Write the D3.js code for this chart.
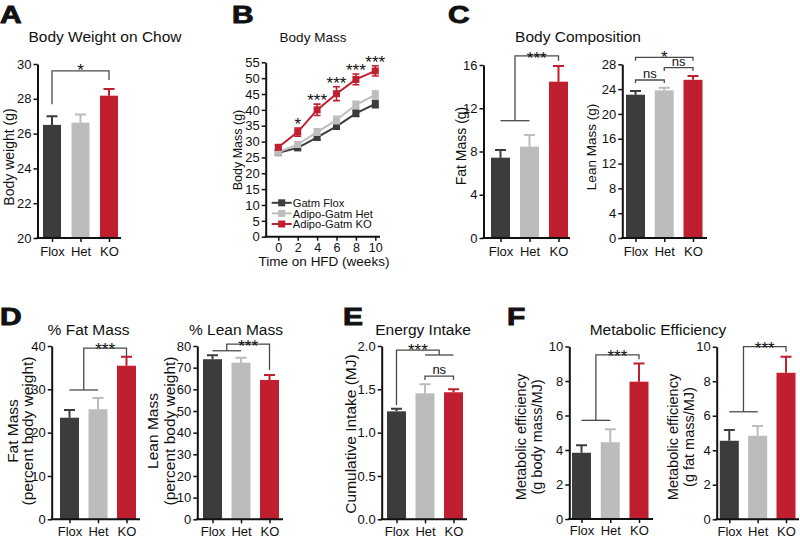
<!DOCTYPE html>
<html><head><meta charset="utf-8">
<script src="https://cdn.jsdelivr.net/npm/d3@7"></script>
<style>
body{margin:0;background:#fff;}
svg{display:block;font-family:"Liberation Sans",Arial,Helvetica,sans-serif;}
</style></head><body>
<svg id="chart" width="800" height="539"></svg>
<script>
// ---------- DATA ----------
const groups = ["Flox", "Het", "KO"];
const barColors = ["#3c3c3e", "#bbbcbe", "#c01f2f"];

// A: Body weight on chow (g)
const chowWeight = [26.5, 26.63, 28.18];
const chowWeightErr = [0.5, 0.47, 0.38];
const chowTicks = [20, 22, 24, 26, 28, 30];

// B: Body mass on HFD (g)
const weeks = [0, 2, 4, 6, 8, 10];
const massFlox = [26.5, 28.0, 31.3, 34.8, 38.9, 41.9];
const massFloxErr = [0.6, 0.7, 0.8, 0.9, 1.0, 1.2];
const massHet = [26.6, 29.1, 33.0, 36.8, 41.6, 44.7];
const massHetErr = [0.6, 0.8, 1.0, 1.2, 1.1, 1.3];
const massKO = [28.2, 33.0, 40.0, 45.1, 49.6, 52.3];
const massKOErr = [0.7, 1.3, 1.8, 2.2, 1.7, 1.6];
const massStars = ["", "*", "***", "***", "***", "***"];
const massTicks = [0, 5, 10, 15, 20, 25, 30, 35, 40, 45, 50, 55];
const weekTicks = [0, 2, 4, 6, 8, 10];
const seriesNames = ["Gatm Flox", "Adipo-Gatm Het", "Adipo-Gatm KO"];

// C: Body composition (g)
const fatMass = [7.43, 8.45, 14.46];
const fatMassErr = [0.72, 1.08, 1.44];
const fatTicks = [0, 4, 8, 12, 16];
const leanMass = [23.1, 23.8, 25.5];
const leanMassErr = [0.6, 0.4, 0.6];
const leanTicks = [0, 4, 8, 12, 16, 20, 24, 28];

// D: % of body weight
const pctFat = [23.45, 25.4, 35.45];
const pctFatErr = [1.75, 2.6, 2.05];
const pctFatTicks = [0, 10, 20, 30, 40];
const pctLean = [73.9, 72.3, 64.3];
const pctLeanErr = [1.8, 2.3, 2.3];
const pctLeanTicks = [0, 10, 20, 30, 40, 50, 60, 70, 80];

// E: Energy intake (MJ)
const intake = [1.246, 1.454, 1.466];
const intakeErr = [0.03, 0.104, 0.034];
const intakeTicks = [0, 0.5, 1.0, 1.5, 2.0];

// F: Metabolic efficiency
const effBody = [3.84, 4.45, 7.96];
const effBodyErr = [0.43, 0.75, 1.06];
const effFat = [4.55, 4.84, 8.49];
const effFatErr = [0.62, 0.56, 0.93];
const effTicks = [0, 2, 4, 6, 8, 10];

// ---------- DRAWING ----------
const svg = d3.select("#chart");
const INK = "#111";
const BRK = "#4a4a4a";

function styleAxis(sel, fs) {
  sel.select(".domain").attr("stroke", INK).attr("stroke-width", 2);
  sel.selectAll(".tick line").attr("stroke", INK).attr("stroke-width", 1.5);
  sel.selectAll(".tick text").attr("fill", INK).attr("font-size", fs).attr("font-family", null);
}

function letter(t, x, y) {
  svg.append("text").attr("transform", `translate(${x},${y}) scale(1.3,1)`)
    .attr("font-size", 23).attr("font-weight", "bold").attr("fill", INK)
    .attr("stroke", INK).attr("stroke-width", 0.9).text(t);
}
function title(t, x, y, fs) {
  svg.append("text").attr("x", x).attr("y", y).attr("text-anchor", "middle")
    .attr("font-size", fs).attr("fill", INK).text(t);
}
function ylabel(lines, xs, cy, fs) {
  lines.forEach((t, i) => {
    svg.append("text").attr("transform", `translate(${xs[i]},${cy}) rotate(-90)`)
      .attr("text-anchor", "middle").attr("dy", "0.35em")
      .attr("font-size", fs).attr("fill", INK).text(t);
  });
}

function barPanel(L, vals, errs, ticks, fmt) {
  const g = svg.append("g");
  const y = d3.scaleLinear().domain([ticks[0], ticks[ticks.length - 1]]).range([L.bottom, L.top]);
  const x = d3.scalePoint().domain(groups).range([L.c0, L.c2]);
  const rows = groups.map((k, i) => ({ k, v: vals[i], e: errs[i], c: barColors[i] }));
  g.selectAll(".err").data(rows).join("path")
    .attr("d", d => `M${x(d.k)},${y(d.v)}V${y(d.v + d.e)}M${x(d.k) - 5.5},${y(d.v + d.e)}H${x(d.k) + 5.5}`)
    .attr("stroke", d => d.c).attr("stroke-width", 2).attr("fill", "none");
  g.selectAll(".bar").data(rows).join("rect")
    .attr("x", d => x(d.k) - L.bw / 2).attr("y", d => y(d.v))
    .attr("width", L.bw).attr("height", d => y(ticks[0]) - y(d.v))
    .attr("fill", d => d.c);
  const ya = g.append("g").attr("transform", `translate(${L.ax},0)`)
    .call(d3.axisLeft(y).tickValues(ticks).tickSize(4).tickSizeOuter(0).tickPadding(2).tickFormat(fmt || d3.format("d")));
  styleAxis(ya, 13);
  const xa = g.append("g").attr("transform", `translate(0,${L.bottom})`)
    .call(d3.axisBottom(x).tickSize(4).tickPadding(L.xpad == null ? 5 : L.xpad));
  xa.select(".domain").remove();
  styleAxis(xa, 13);
  g.append("line").attr("x1", L.ax - 1).attr("x2", L.end).attr("y1", L.bottom).attr("y2", L.bottom)
    .attr("stroke", INK).attr("stroke-width", 2);
  return { g, x, y, xi: i => x.range()[0] + i * x.step() };
}

function path(P, pts) {
  const line = d3.line().x(p => P.xi(p[0])).y(p => P.y(p[1]));
  P.g.append("path").attr("d", line(pts)).attr("fill", "none")
    .attr("stroke", BRK).attr("stroke-width", 1.3);
}
function stars(P, i, v, t, off) {
  P.g.append("text").attr("x", P.xi(i)).attr("y", P.y(v) + (off == null ? 6 : off))
    .attr("text-anchor", "middle").attr("font-size", 17).attr("fill", INK).text(t);
}
function ns(P, i, v) {
  P.g.append("text").attr("x", P.xi(i)).attr("y", P.y(v) - 2)
    .attr("text-anchor", "middle").attr("font-size", 13).attr("fill", INK).text("ns");
}

// ----- Panel A -----
letter("A", 0, 23);
title("Body Weight on Chow", 105, 42, 15.5);
ylabel(["Body weight (g)"], [9], 157, 14);
const PA = barPanel({ ax: 37.5, end: 121, bottom: 238, top: 64, c0: 52, c2: 109, bw: 18 },
  chowWeight, chowWeightErr, chowTicks);
path(PA, [[0, 27.68], [0, 29.61], [2, 29.61], [2, 29.08]]);
stars(PA, 1, 29.61, "*", 5);

// ----- Panel B -----
letter("B", 232, 23);
title("Body Mass", 313, 42, 13.5);
ylabel(["Body Mass (g)"], [238], 150, 12.5);
{
  const g = svg.append("g");
  const x = d3.scaleLinear().domain([0, 10]).range([278.3, 375.3]);
  const y = d3.scaleLinear().domain([0, 55]).range([236.7, 62.3]);
  const series = [
    { name: seriesNames[0], v: massFlox, e: massFloxErr, c: "#3c3c3e" },
    { name: seriesNames[1], v: massHet, e: massHetErr, c: "#bdbdbf" },
    { name: seriesNames[2], v: massKO, e: massKOErr, c: "#c01f2f" }
  ];
  series.forEach(s => {
    const pts = weeks.map((w, i) => ({ w, v: s.v[i], e: s.e[i] }));
    g.append("path").datum(pts).attr("d", d3.line().x(d => x(d.w)).y(d => y(d.v)))
      .attr("fill", "none").attr("stroke", s.c).attr("stroke-width", 2);
    g.selectAll(null).data(pts).join("path")
      .attr("d", d => `M${x(d.w)},${y(d.v - d.e)}V${y(d.v + d.e)}M${x(d.w) - 3.5},${y(d.v + d.e)}H${x(d.w) + 3.5}M${x(d.w) - 3.5},${y(d.v - d.e)}H${x(d.w) + 3.5}`)
      .attr("stroke", s.c).attr("stroke-width", 1.6).attr("fill", "none");
    g.selectAll(null).data(pts).join("rect")
      .attr("x", d => x(d.w) - 3.5).attr("y", d => y(d.v) - 3.5)
      .attr("width", 7).attr("height", 7).attr("fill", s.c);
  });
  // significance stars above KO
  g.selectAll(null).data(weeks.map((w, i) => ({ w, t: massStars[i], top: massKO[i] + massKOErr[i] })))
    .join("text").attr("x", d => x(d.w)).attr("y", d => y(d.top) + 2)
    .attr("text-anchor", "middle").attr("font-size", 17).attr("fill", INK).text(d => d.t);
  const ya = g.append("g").attr("transform", "translate(265.7,0)")
    .call(d3.axisLeft(y).tickValues(massTicks).tickSize(4).tickSizeOuter(0).tickPadding(2));
  styleAxis(ya, 13);
  const xa = g.append("g").attr("transform", "translate(0,236.7)")
    .call(d3.axisBottom(x).tickValues(weekTicks).tickSize(4).tickPadding(2));
  xa.select(".domain").remove();
  styleAxis(xa, 12.5);
  g.append("line").attr("x1", 264.7).attr("x2", 380).attr("y1", 236.7).attr("y2", 236.7)
    .attr("stroke", INK).attr("stroke-width", 2);
  g.append("text").attr("x", 324).attr("y", 265.5).attr("text-anchor", "middle")
    .attr("font-size", 13.5).attr("fill", INK).text("Time on HFD (weeks)");
  // legend
  const lg = g.append("g").attr("transform", "translate(271.7,202.8)");
  series.forEach((s, i) => {
    const r = lg.append("g").attr("transform", `translate(0,${i * 10.6})`);
    r.append("line").attr("x1", 0).attr("x2", 20).attr("stroke", s.c).attr("stroke-width", 2);
    r.append("rect").attr("x", 6.5).attr("y", -3.5).attr("width", 7).attr("height", 7).attr("fill", s.c);
    r.append("text").attr("x", 21).attr("y", 4.1).attr("font-size", 11.2).attr("fill", INK).text(s.name);
  });
}

// ----- Panel C -----
letter("C", 448, 23);
title("Body Composition", 578, 42, 15.5);
ylabel(["Fat Mass (g)"], [461.5], 146, 14);
ylabel(["Lean Mass (g)"], [591], 147, 13.5);
const PC1 = barPanel({ ax: 483.5, end: 570, bottom: 238, top: 65, c0: 500.5, c2: 558.5, bw: 19 },
  fatMass, fatMassErr, fatTicks);
path(PC1, [[0, 10.85], [1, 10.85]]);
path(PC1, [[0.5, 10.85], [0.5, 16.84], [2, 16.84], [2, 16.4]]);
stars(PC1, 1.25, 16.84, "***", 8);
const PC2 = barPanel({ ax: 622.3, end: 707, bottom: 238, top: 64.3, c0: 635.5, c2: 693, bw: 19 },
  leanMass, leanMassErr, leanTicks);
path(PC2, [[0, 24.98], [0, 25.47], [1, 25.47], [1, 24.98]]);
ns(PC2, 0.5, 25.47);
path(PC2, [[1, 26.92], [1, 27.45], [2, 27.45], [2, 26.92]]);
ns(PC2, 1.5, 27.45);
path(PC2, [[0, 28.58], [0, 29.13], [2, 29.13], [2, 28.58]]);
stars(PC2, 1, 29.13, "*", 6);

// ----- Panel D -----
letter("D", 0, 325);
title("% Fat Mass", 88.5, 335, 15.5);
title("% Lean Mass", 236, 334.5, 15.5);
ylabel(["Fat Mass", "(percent body weight)"], [13, 28], 431, 15.5);
ylabel(["Lean Mass", "(percent body weight)"], [153, 170], 431, 15.5);
const PD1 = barPanel({ ax: 51.7, end: 140, bottom: 519.3, top: 346, c0: 69.5, c2: 126.5, bw: 19, xpad: 3 },
  pctFat, pctFatErr, pctFatTicks);
path(PD1, [[0, 29.85], [1, 29.85]]);
path(PD1, [[0.5, 29.85], [0.5, 39.5], [2, 39.5], [2, 37.5]]);
stars(PD1, 1.25, 39.5, "***", 7);
const PD2 = barPanel({ ax: 197.3, end: 283, bottom: 519.3, top: 346, c0: 212.5, c2: 269.5, bw: 19, xpad: 3 },
  pctLean, pctLeanErr, pctLeanTicks);
path(PD2, [[0, 77.8], [1, 77.8]]);
path(PD2, [[0.5, 77.8], [0.5, 80.9], [2, 80.9], [2, 68.9]]);
stars(PD2, 1.25, 80.9, "***", 8);

// ----- Panel E -----
letter("E", 343, 325);
title("Energy Intake", 423, 335, 15.5);
ylabel(["Cumulative Intake (MJ)"], [351], 434, 15.5);
const PE = barPanel({ ax: 381.7, end: 467, bottom: 519.3, top: 346, c0: 396.5, c2: 453.5, bw: 19, xpad: 3 },
  intake, intakeErr, intakeTicks, d3.format(".1f"));
path(PE, [[0, 1.32], [0, 1.953], [1.5, 1.953], [1.5, 1.896]]);
path(PE, [[1, 1.896], [2, 1.896]]);
stars(PE, 0.75, 1.953, "***", 6);
path(PE, [[1, 1.607], [1, 1.653], [2, 1.653], [2, 1.607]]);
ns(PE, 1.5, 1.653);

// ----- Panel F -----
letter("F", 507, 325);
title("Metabolic Efficiency", 658, 335, 15.5);
ylabel(["Metabolic efficiency", "(g body mass/MJ)"], [521, 536.5], 437, 14.5);
ylabel(["Metabolic efficiency", "(g fat mass/MJ)"], [673, 689], 437, 14.5);
const PF1 = barPanel({ ax: 569.3, end: 653, bottom: 519, top: 346.5, c0: 581.5, c2: 639, bw: 19, xpad: 3 },
  effBody, effBodyErr, effTicks);
path(PF1, [[0, 5.72], [1, 5.72]]);
path(PF1, [[0.5, 5.72], [0.5, 9.51], [2, 9.51], [2, 9.26]]);
stars(PF1, 1.25, 9.51, "***", 7);
const PF2 = barPanel({ ax: 716.7, end: 799, bottom: 519.3, top: 346.7, c0: 729.3, c2: 786, bw: 19, xpad: 3 },
  effFat, effFatErr, effTicks);
path(PF2, [[0, 6.23], [1, 6.23]]);
path(PF2, [[0.5, 6.23], [0.5, 10.0], [2, 10.0], [2, 9.71]]);
stars(PF2, 1.25, 10.0, "***", 7);
</script>
</body></html>
